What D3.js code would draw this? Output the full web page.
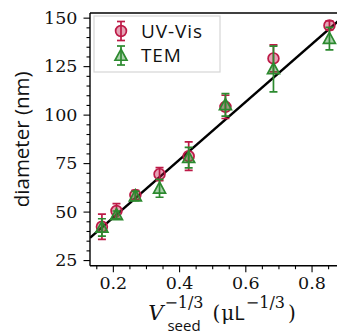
<!DOCTYPE html>
<html>
<head>
<meta charset="utf-8">
<script src="https://cdn.jsdelivr.net/npm/d3@7"></script>
<style>
  html, body { margin: 0; padding: 0; background: #fff; }
  svg { display: block; }
</style>
</head>
<body>
<svg id="chart" width="337" height="335"></svg>
<script>
// Seed volume (as V^-1/3) and measured particle diameters
const seedX = [0.167, 0.211, 0.268, 0.341, 0.429, 0.540, 0.685, 0.854];
const uvVis = [42.2, 50.3, 58.5, 69.3, 78.6, 104.0, 129.0, 146.0];
const uvVisErr = [6.5, 3.8, 2.5, 3.4, 7.3, 6.0, 7.0, 2.3];
const tem = [41.8, 48.3, 58.0, 62.0, 77.8, 105.0, 123.5, 139.2];
const temErr = [4.5, 2.0, 2.4, 4.6, 5.3, 5.8, 11.8, 5.8];

// Linear fit: diameter = slope * x + intercept
const fitSlope = 149;
const fitIntercept = 17;

const xTicks = [0.2, 0.4, 0.6, 0.8];
const xMinor = [0.15, 0.25, 0.3, 0.35, 0.45, 0.5, 0.55, 0.65, 0.7, 0.75, 0.85];
const yTicks = [25, 50, 75, 100, 125, 150];
const yMinor = [30, 35, 40, 45, 55, 60, 65, 70, 80, 85, 90, 95, 105, 110, 115, 120, 130, 135, 140, 145];

const seriesNames = ["UV-Vis", "TEM"];
const colRed = "#bd1a47";
const colGreen = "#2c8a2f";

const svg = d3.select("#chart");
const pLeft = 90, pRight = 344, pTop = 13, pBottom = 265.7;

const x = d3.scaleLinear().domain([0.131, 0.898]).range([pLeft, pRight]);
const y = d3.scaleLinear().domain([22.1, 152.4]).range([pBottom, pTop]);

const serif = "'DejaVu Serif', serif";
const sans = "'Open Sans', 'DejaVu Sans', sans-serif";

// clip for plot content
svg.append("defs").append("clipPath").attr("id", "plotClip")
  .append("rect").attr("x", pLeft).attr("y", pTop).attr("width", pRight - pLeft).attr("height", pBottom - pTop);

const plot = svg.append("g").attr("clip-path", "url(#plotClip)");

// Fit line across the x domain
const [x0, x1] = x.domain();
plot.append("line")
  .attr("x1", x(x0)).attr("y1", y(fitSlope * x0 + fitIntercept))
  .attr("x2", x(x1)).attr("y2", y(fitSlope * x1 + fitIntercept))
  .attr("stroke", "#000").attr("stroke-width", 2.4);

function errorBars(g, xs, ys, es, color) {
  const cap = 4;
  const grp = g.append("g").attr("stroke", color).attr("stroke-width", 1.7).attr("fill", "none");
  xs.forEach((xv, i) => {
    const cx = x(xv), yt = y(ys[i] + es[i]), yb = y(ys[i] - es[i]);
    grp.append("line").attr("x1", cx).attr("x2", cx).attr("y1", yt).attr("y2", yb);
    grp.append("line").attr("x1", cx - cap).attr("x2", cx + cap).attr("y1", yt).attr("y2", yt);
    grp.append("line").attr("x1", cx - cap).attr("x2", cx + cap).attr("y1", yb).attr("y2", yb);
  });
}

const circleSym = d3.symbol().type(d3.symbolCircle).size(Math.PI * 5.4 * 5.4);
const triPath = (s) => `M0,${-s}L${s * 0.95},${s * 0.75}L${-s * 0.95},${s * 0.75}Z`;

// UV-Vis series
errorBars(plot, seedX, uvVis, uvVisErr, colRed);
plot.append("g").selectAll("path").data(seedX).join("path")
  .attr("transform", (d, i) => `translate(${x(d)},${y(uvVis[i])})`)
  .attr("d", circleSym)
  .attr("fill", colRed).attr("fill-opacity", 0.4)
  .attr("stroke", colRed).attr("stroke-width", 1.7);

// TEM series
errorBars(plot, seedX, tem, temErr, colGreen);
plot.append("g").selectAll("path").data(seedX).join("path")
  .attr("transform", (d, i) => `translate(${x(d)},${y(tem[i])})`)
  .attr("d", triPath(6.3))
  .attr("fill", colGreen).attr("fill-opacity", 0.4)
  .attr("stroke", colGreen).attr("stroke-width", 1.7);

// Axes
const xAxis = svg.append("g").attr("transform", `translate(0,${pBottom})`)
  .call(d3.axisBottom(x).tickValues(xTicks).tickFormat(d3.format(".1f")).tickSize(6.5).tickPadding(4));
svg.append("g").attr("transform", `translate(0,${pBottom})`)
  .call(d3.axisBottom(x).tickValues(xMinor).tickFormat("").tickSize(3.5))
  .select(".domain").remove();

const yAxis = svg.append("g").attr("transform", `translate(${pLeft},0)`)
  .call(d3.axisLeft(y).tickValues(yTicks).tickSize(6.5).tickPadding(6));
svg.append("g").attr("transform", `translate(${pLeft},0)`)
  .call(d3.axisLeft(y).tickValues(yMinor).tickFormat("").tickSize(3.5))
  .select(".domain").remove();

svg.selectAll(".tick line").attr("stroke", "#000").attr("stroke-width", 1.1);
[xAxis, yAxis].forEach(a => {
  a.select(".domain").remove();
  a.selectAll("text").attr("font-family", serif).attr("font-size", 17.5).attr("fill", "#111");
});
xAxis.selectAll("text").attr("dy", "0.71em");

// Spines
svg.append("line").attr("x1", pLeft).attr("x2", pLeft).attr("y1", pTop).attr("y2", pBottom)
  .attr("stroke", "#000").attr("stroke-width", 1.4);
svg.append("line").attr("x1", pLeft).attr("x2", 337).attr("y1", pBottom).attr("y2", pBottom)
  .attr("stroke", "#000").attr("stroke-width", 1.4);
svg.append("line").attr("x1", pLeft).attr("x2", 337).attr("y1", pTop).attr("y2", pTop)
  .attr("stroke", "#000").attr("stroke-width", 1.4);

// Y axis title
svg.append("text")
  .attr("transform", `translate(29,${(pTop + pBottom) / 2 + 0}) rotate(-90)`)
  .attr("text-anchor", "middle")
  .attr("font-family", sans).attr("font-size", 20.5).attr("fill", "#111")
  .text("diameter (nm)");

// X axis title, built piece by piece: V^{-1/3}_{seed} (μL^{-1/3})
const xt = svg.append("g");
let cursor = 0;
const base = 320;
function piece(txt, opts) {
  const t = xt.append("text").attr("x", cursor + (opts.dx || 0)).attr("y", base + (opts.dy || 0))
    .attr("font-family", opts.family || serif).attr("font-size", opts.size || 20)
    .attr("font-style", opts.italic ? "italic" : "normal").attr("fill", "#111").text(txt);
  const w = t.node().getComputedTextLength();
  return { t, w };
}
const pV = piece("V", { italic: true, size: 21 });
cursor += pV.w + 1;
const sup1 = piece("\u22121/3", { size: 16, dy: -12 });
const sub1 = piece("seed", { size: 15, family: sans, dy: 10.5, dx: 3 });
cursor += Math.max(sup1.w, sub1.w + 3) + 9;
const lp = piece("(", {});
cursor += lp.w + 1;
const mu = piece("\u03bc", {});
cursor += mu.w;
const pL = piece("L", { family: sans, size: 20 });
cursor += pL.w + 1;
const sup2 = piece("\u22121/3", { size: 16, dy: -12 });
cursor += sup2.w + 3;
const rp = piece(")", {});
cursor += rp.w;
xt.attr("transform", `translate(${222 - cursor / 2},0)`);

// Legend
const lg = svg.append("g");
lg.append("rect").attr("x", 94).attr("y", 16).attr("width", 126).attr("height", 56)
  .attr("fill", "#fff").attr("fill-opacity", 0.85).attr("stroke", "#d6d6d6").attr("stroke-width", 1.2);
const rows = [31, 55.5];
seriesNames.forEach((name, i) => {
  const color = i === 0 ? colRed : colGreen;
  const my = rows[i], mx = 121;
  const g = lg.append("g").attr("stroke", color).attr("stroke-width", 1.7);
  g.append("line").attr("x1", mx).attr("x2", mx).attr("y1", my - 9.5).attr("y2", my + 9.5);
  g.append("line").attr("x1", mx - 4).attr("x2", mx + 4).attr("y1", my - 9.5).attr("y2", my - 9.5);
  g.append("line").attr("x1", mx - 4).attr("x2", mx + 4).attr("y1", my + 9.5).attr("y2", my + 9.5);
  g.append("path").attr("transform", `translate(${mx},${my})`)
    .attr("d", i === 0 ? circleSym() : triPath(6.3))
    .attr("fill", color).attr("fill-opacity", 0.4);
  lg.append("text").attr("x", 141).attr("y", my).attr("dy", "0.36em")
    .attr("font-family", sans).attr("font-size", 19).attr("fill", "#111")
    .attr("letter-spacing", 0.9)
    .text(name);
});
</script>
</body>
</html>
